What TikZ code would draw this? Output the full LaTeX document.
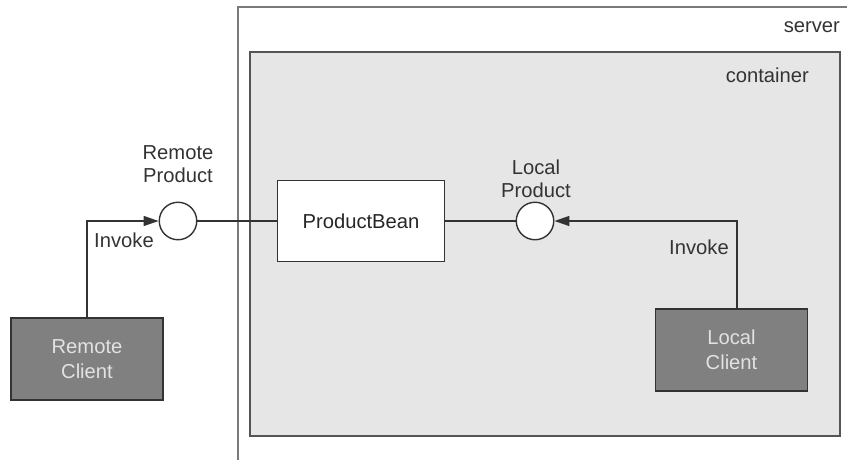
\documentclass[tikz,border=0pt]{standalone}
\usepackage{fontspec}
\setmainfont{Liberation Sans}
\usetikzlibrary{arrows.meta, positioning}

\definecolor{boxline}{HTML}{333333}
\definecolor{contline}{HTML}{555555}
\definecolor{contfill}{HTML}{E6E6E6}
\definecolor{clientfill}{HTML}{808080}
\definecolor{clienttext}{HTML}{E2E2E2}
\definecolor{srvline}{HTML}{7A7A7A}
\definecolor{labeltext}{HTML}{333333}

\begin{document}
\begin{tikzpicture}[
        x=0.02cm, y=-0.02cm,
        font=\fontsize{11.5}{13}\selectfont,
        frame/.style={rectangle, draw=srvline, line width=1.1pt, inner sep=0pt},
        cont/.style={rectangle, draw=contline, fill=contfill, line width=0.9pt, inner sep=0pt},
        bean/.style={rectangle, draw=boxline, fill=white, line width=0.8pt,
                     minimum width=3.34cm, minimum height=1.62cm, text=black!85},
        client/.style={rectangle, draw=boxline, fill=clientfill, text=clienttext,
                       line width=0.9pt, minimum width=3.04cm, minimum height=1.64cm,
                       align=center, font=\fontsize{11.5}{14}\selectfont},
        iface/.style={circle, draw=boxline, fill=white, line width=0.8pt,
                      minimum size=0.75cm, inner sep=0pt},
        lbl/.style={align=center, inner sep=1pt, text=labeltext},
        wire/.style={draw=boxline, line width=0.8pt},
        arr/.style={wire, -{Triangle[length=0.3cm, width=0.2cm]}},
    ]
        \useasboundingbox (0,0) rectangle (847,459);
        \clip (0,0) rectangle (847,459);

        % Server and container
        \node[frame, minimum width=12.44cm, minimum height=9.08cm] (server) at (549,234) {};
        \node[cont, minimum width=11.8cm, minimum height=7.68cm] (container) at (545,244) {};
        \node[lbl, anchor=east] (srvlbl) at (842,27) {server};
        \node[lbl, anchor=east] (contlbl) at (811,75) {container};

        % Bean and its interfaces
        \node[bean] (bean) at (361,221) {ProductBean};
        \node[iface] (rprod) at (178,221) {};
        \node[iface] (lprod) at (535,221) {};
        \node[lbl] (rprodlbl) at (178,164) {Remote\\Product};
        \node[lbl] (lprodlbl) at (536,179) {Local\\Product};

        % Clients
        \node[client] (rclient) at (87,359) {Remote\\Client};
        \node[client] (lclient) at (731.5,350) {Local\\Client};

        % Connections
        \draw[wire] (rprod) -- (bean);
        \draw[wire] (bean) -- (lprod);
        \draw[arr] (rclient.north) |- (rprod.west);
        \draw[arr] ([xshift=0.11cm]lclient.north) |- (lprod.east);

        % Labels
        \node[lbl] (rinv) at (124,240) {Invoke};
        \node[lbl] (linv) at (699,247) {Invoke};
    \end{tikzpicture}
\end{document}
